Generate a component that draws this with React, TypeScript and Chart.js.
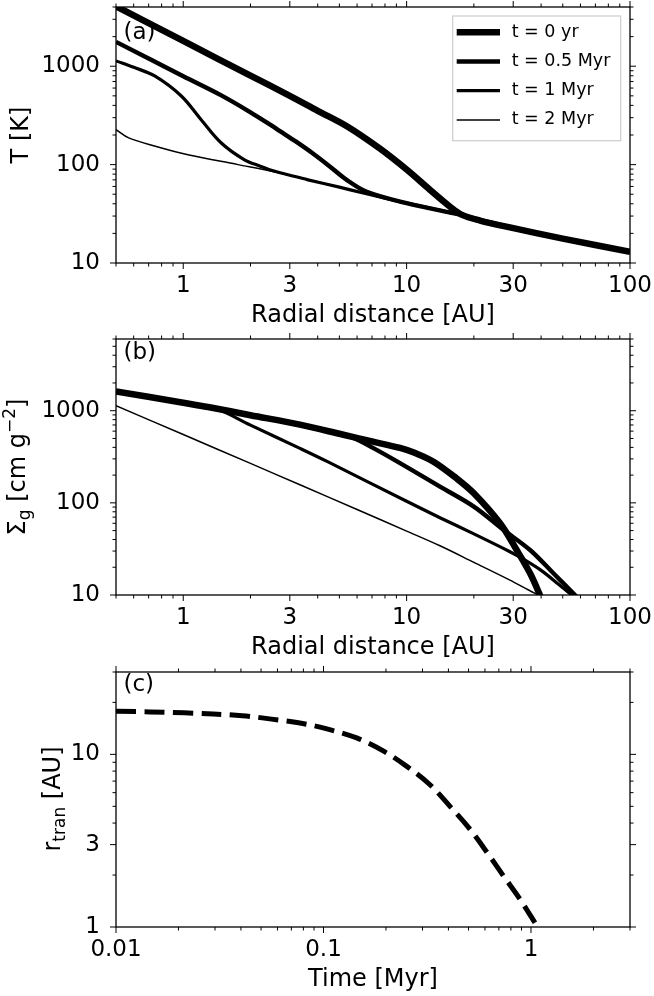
import React, { useEffect, useRef } from 'react';
import { Chart, registerables } from 'chart.js';

Chart.register(...registerables);

const FONT = '"DejaVu Sans", "Liberation Sans", sans-serif';

// ---------- data ----------

const seriesLabels = ['t = 0 yr', 't = 0.5 Myr', 't = 1 Myr', 't = 2 Myr'];

// (a) temperature T [K] vs radius [AU]
const tempR0 = [0.5, 1, 2, 3, 4, 5.4, 7.6, 10, 12.7, 15.6, 17.6, 21.3, 29, 50, 100];
const tempT0 = [4070, 1810, 802, 500, 352, 245, 145, 89, 55.6, 37.5, 31, 27, 23, 17.7, 13];
const tempR05 = [0.5, 1, 1.48, 2, 2.48, 2.71, 3.2, 3.82, 4.5, 5.39, 6.63, 10, 17.3, 21.3, 29, 50, 100];
const tempT05 = [1770, 791, 505, 340, 250, 219, 171, 129, 97, 70, 53, 40.6, 31, 27.5, 23, 17.7, 13];
const tempR1 = [0.5, 0.6, 0.745, 0.98, 1.2, 1.48, 1.88, 2.2, 2.57, 3, 3.62, 5, 6.4, 10, 17.3, 21.3, 29, 50, 100];
const tempT1 = [1133, 975, 796, 498, 288, 166, 112, 97, 85.5, 78, 70, 59, 51.4, 40.6, 31, 27.5, 23, 17.7, 13];
const tempR2 = [0.5, 0.57, 0.75, 1.05, 1.76, 2.71, 3.62, 5, 6.4, 10, 17.3, 21.3, 29, 50, 100];
const tempT2 = [227, 187, 154, 126, 100, 82, 70, 59, 51.4, 40.6, 31, 27.5, 23, 17.7, 13];

// (b) gas surface density vs radius [AU]
const sigR0 = [0.5, 1, 1.29, 2, 3.33, 5.21, 7, 9.34, 11, 13.2, 16.7, 20, 26.2, 31.1, 35.7, 39.5, 42];
const sigS0 = [1622, 1220, 1097, 894, 705, 548, 464, 394, 345, 280, 185, 127, 60, 30.8, 17.2, 10, 6.9];
const sigR05 = [0.5, 1, 1.29, 2, 3.33, 5.21, 5.58, 7, 9.34, 14.1, 20, 27.1, 35.7, 45.4, 56.7, 60];
const sigS05 = [1622, 1220, 1097, 894, 705, 548, 527, 400, 270, 150, 91, 51, 30.8, 17.2, 10, 8.7];
const sigR1 = [0.5, 1, 1.38, 2, 3.33, 4.45, 10, 14.1, 20, 29, 32.2, 40, 48, 54.8, 60];
const sigS1 = [1622, 1220, 1069, 698, 390, 278, 104, 69, 46, 29.5, 25.7, 18.5, 13, 10, 8.3];
const sigR2 = [0.5, 1, 2, 3.33, 6, 10, 14.1, 20, 29, 35, 38.9, 42];
const sigS2 = [1133, 551, 268, 157, 84.8, 49.4, 34.2, 22.6, 14.5, 11.4, 10, 9.1];

// (c) transition radius [AU] vs time [Myr]
const timeMyr = [0.01, 0.0213, 0.0406, 0.0562, 0.077, 0.105, 0.1445, 0.196, 0.252, 0.326, 0.407, 0.502, 0.612, 0.736, 0.885, 1.076];
const rTran = [17.8, 17.4, 16.75, 16.0, 15.2, 14.0, 12.45, 10.4, 8.52, 6.67, 5.0, 3.75, 2.72, 1.98, 1.45, 1.0];

// ticks
const radiusMajor = [1, 3, 10, 30, 100];
const radiusLabels = ['1', '3', '10', '30', '100'];
const radiusMinor = [0.5, 0.6, 0.7, 0.8, 0.9, 2, 4, 5, 6, 7, 8, 9, 20, 40, 50, 60, 70, 80, 90];
const tempMajor = [10, 100, 1000];
const tempLabels = ['10', '100', '1000'];
const tempMinor = [20, 30, 40, 50, 60, 70, 80, 90, 200, 300, 400, 500, 600, 700, 800, 900, 2000, 3000, 4000];
const sigMinor = [20, 30, 40, 50, 60, 70, 80, 90, 200, 300, 400, 500, 600, 700, 800, 900, 2000, 3000, 4000, 5000, 6000];
const timeMajor = [0.01, 0.1, 1];
const timeLabels = ['0.01', '0.1', '1'];
const timeMinor = [0.02, 0.03, 0.04, 0.05, 0.06, 0.07, 0.08, 0.09, 0.2, 0.3, 0.4, 0.5, 0.6, 0.7, 0.8, 0.9, 2, 3];
const rtMajor = [1, 3, 10];
const rtLabels = ['1', '3', '10'];
const rtMinor = [2, 4, 5, 6, 7, 8, 9, 20, 30];

const LINE_WIDTHS = [6.5, 4.4, 3.2, 1.5];

// ---------- drawing helpers ----------

type Seg = { text: string; size: number; dy?: number };
type Series = { x: number[]; y: number[]; width: number; label?: string; dash?: number[] };
type PanelSpec = {
  top: number;
  height: number;
  chartTop: number;
  chartBottom: number;
  series: Series[];
  xRange: [number, number];
  yRange: [number, number];
  xMajor: number[];
  xLabels: string[];
  xMinor: number[];
  yMajor: number[];
  yLabels: string[];
  yMinor: number[];
  letter: string;
  letterY: number;
  xTitle: string;
  xTitleY: number;
  yTitle: Seg[];
  yTitleX: number;
  yTitleY: number;
  legend: boolean;
};

function line(ctx: CanvasRenderingContext2D, x1: number, y1: number, x2: number, y2: number) {
  ctx.beginPath();
  ctx.moveTo(x1, y1);
  ctx.lineTo(x2, y2);
  ctx.stroke();
}

function drawSegments(ctx: CanvasRenderingContext2D, segs: Seg[]) {
  let total = 0;
  const widths = segs.map((s) => {
    ctx.font = `${s.size}px ${FONT}`;
    const w = ctx.measureText(s.text).width;
    total += w;
    return w;
  });
  let cx = -total / 2;
  segs.forEach((s, i) => {
    ctx.font = `${s.size}px ${FONT}`;
    ctx.fillText(s.text, cx, s.dy || 0);
    cx += widths[i];
  });
}

function makeFrame(spec: PanelSpec) {
  return {
    id: 'frame',
    afterDraw(chart: any) {
      const { ctx, chartArea: a, scales } = chart;
      const xs = scales.x;
      const ys = scales.y;
      ctx.save();
      ctx.strokeStyle = '#000';
      ctx.fillStyle = '#000';
      ctx.lineWidth = 1;

      const xTicks = (vals: number[], len: number) =>
        vals.forEach((v) => {
          const p = xs.getPixelForValue(v);
          if (p < a.left - 0.5 || p > a.right + 0.5) return;
          line(ctx, p, a.bottom, p, a.bottom + len);
          line(ctx, p, a.top, p, a.top - len);
        });
      const yTicks = (vals: number[], len: number) =>
        vals.forEach((v) => {
          const p = ys.getPixelForValue(v);
          if (p < a.top - 0.5 || p > a.bottom + 0.5) return;
          line(ctx, a.left, p, a.left - len, p);
          line(ctx, a.right, p, a.right + len, p);
        });
      xTicks(spec.xMajor, 6);
      xTicks(spec.xMinor, 3.5);
      yTicks(spec.yMajor, 6);
      yTicks(spec.yMinor, 3.5);

      ctx.lineWidth = 1.3;
      ctx.strokeRect(a.left, a.top, a.right - a.left, a.bottom - a.top);

      // panel letter
      ctx.font = `23px ${FONT}`;
      ctx.textAlign = 'left';
      ctx.textBaseline = 'alphabetic';
      ctx.fillText(spec.letter, 123.5, spec.letterY);

      // x title
      ctx.font = `24px ${FONT}`;
      ctx.textAlign = 'center';
      ctx.fillText(spec.xTitle, (a.left + a.right) / 2, spec.xTitleY);

      // y title (rotated, with sub/superscripts)
      ctx.save();
      ctx.translate(spec.yTitleX, spec.yTitleY);
      ctx.rotate(-Math.PI / 2);
      ctx.textAlign = 'left';
      drawSegments(ctx, spec.yTitle);
      ctx.restore();

      if (spec.legend) {
        const bx = 452.7;
        const by = 16;
        ctx.fillStyle = '#fff';
        ctx.fillRect(bx, by, 168, 124.7);
        ctx.strokeStyle = '#cccccc';
        ctx.lineWidth = 1.2;
        ctx.strokeRect(bx, by, 168, 124.7);
        ctx.strokeStyle = '#000';
        ctx.fillStyle = '#000';
        ctx.font = `17.5px ${FONT}`;
        ctx.textAlign = 'left';
        ctx.textBaseline = 'middle';
        chart.data.datasets.forEach((ds: any, i: number) => {
          const ry = 32.3 + i * 29.2;
          ctx.lineWidth = ds.borderWidth;
          ctx.lineCap = 'butt';
          line(ctx, 456.7, ry, 500, ry);
          ctx.fillText(ds.label, 511.7, ry);
        });
      }
      ctx.restore();
    },
  };
}

function logAxis(
  range: [number, number],
  major: number[],
  labels: string[],
  horizontal: boolean,
  spec: PanelSpec
) {
  return {
    type: 'logarithmic',
    min: range[0],
    max: range[1],
    bounds: 'data',
    grid: { display: false, drawTicks: false },
    border: { display: false },
    ticks: {
      autoSkip: false,
      maxRotation: 0,
      minRotation: 0,
      padding: horizontal ? 9 : 16,
      color: '#000',
      font: { family: FONT, size: 23 },
      callback: (v: number) => {
        const i = major.findIndex((m) => Math.abs(m - v) / m < 1e-6);
        return i >= 0 ? labels[i] : '';
      },
    },
    afterBuildTicks: (s: any) => {
      s.ticks = major.map((v) => ({ value: v }));
    },
    afterFit: (s: any) => {
      if (horizontal) {
        s.height = spec.height - spec.chartBottom;
        s.paddingLeft = 0;
        s.paddingRight = 0;
      } else {
        s.width = 116;
        s.paddingTop = 0;
        s.paddingBottom = 0;
      }
    },
  };
}

const Panel: React.FC<{ spec: PanelSpec }> = ({ spec }) => {
  const ref = useRef<HTMLCanvasElement>(null);

  useEffect(() => {
    if (!ref.current) return;
    const chart = new Chart(ref.current, {
      type: 'line',
      data: {
        datasets: spec.series.map((s) => ({
          label: s.label || '',
          data: s.x.map((x, i) => ({ x, y: s.y[i] })),
          borderColor: '#000',
          backgroundColor: '#000',
          borderWidth: s.width,
          borderDash: s.dash || [],
          borderJoinStyle: 'round',
          borderCapStyle: 'butt',
          pointRadius: 0,
          fill: false,
          tension: 0.35,
          clip: 0,
        })),
      },
      options: {
        animation: false,
        responsive: false,
        events: [],
        layout: { padding: { top: spec.chartTop, right: 24, left: 0, bottom: 0 } },
        plugins: { legend: { display: false }, tooltip: { enabled: false } },
        scales: {
          x: logAxis(spec.xRange, spec.xMajor, spec.xLabels, true, spec),
          y: logAxis(spec.yRange, spec.yMajor, spec.yLabels, false, spec),
        },
      } as any,
      plugins: [makeFrame(spec)],
    } as any);
    return () => chart.destroy();
  }, [spec]);

  return (
    <canvas
      ref={ref}
      width={654}
      height={spec.height}
      style={{ position: 'absolute', left: 0, top: spec.top, width: 654, height: spec.height }}
    />
  );
};

const panelA: PanelSpec = {
  top: 0,
  height: 330,
  chartTop: 7,
  chartBottom: 263,
  series: [
    { x: tempR0, y: tempT0, width: LINE_WIDTHS[0], label: seriesLabels[0] },
    { x: tempR05, y: tempT05, width: LINE_WIDTHS[1], label: seriesLabels[1] },
    { x: tempR1, y: tempT1, width: LINE_WIDTHS[2], label: seriesLabels[2] },
    { x: tempR2, y: tempT2, width: LINE_WIDTHS[3], label: seriesLabels[3] },
  ],
  xRange: [0.5, 100],
  yRange: [10, 4000],
  xMajor: radiusMajor,
  xLabels: radiusLabels,
  xMinor: radiusMinor,
  yMajor: tempMajor,
  yLabels: tempLabels,
  yMinor: tempMinor,
  letter: '(a)',
  letterY: 39,
  xTitle: 'Radial distance [AU]',
  xTitleY: 322,
  yTitle: [{ text: 'T [K]', size: 24 }],
  yTitleX: 28,
  yTitleY: 135,
  legend: true,
};

const panelB: PanelSpec = {
  top: 330,
  height: 335,
  chartTop: 9,
  chartBottom: 265,
  series: [
    { x: sigR0, y: sigS0, width: LINE_WIDTHS[0], label: seriesLabels[0] },
    { x: sigR05, y: sigS05, width: LINE_WIDTHS[1], label: seriesLabels[1] },
    { x: sigR1, y: sigS1, width: LINE_WIDTHS[2], label: seriesLabels[2] },
    { x: sigR2, y: sigS2, width: LINE_WIDTHS[3], label: seriesLabels[3] },
  ],
  xRange: [0.5, 100],
  yRange: [10, 6000],
  xMajor: radiusMajor,
  xLabels: radiusLabels,
  xMinor: radiusMinor,
  yMajor: tempMajor,
  yLabels: tempLabels,
  yMinor: sigMinor,
  letter: '(b)',
  letterY: 29,
  xTitle: 'Radial distance [AU]',
  xTitleY: 324,
  yTitle: [
    { text: 'Σ', size: 24 },
    { text: 'g', size: 17, dy: 5 },
    { text: ' [cm g', size: 24 },
    { text: '−2', size: 17, dy: -10 },
    { text: ']', size: 24 },
  ],
  yTitleX: 25,
  yTitleY: 137,
  legend: false,
};

const panelC: PanelSpec = {
  top: 665,
  height: 331,
  chartTop: 7,
  chartBottom: 262,
  series: [{ x: timeMyr, y: rTran, width: 5, dash: [20, 8.5], label: 'r_tran' }],
  xRange: [0.01, 3],
  yRange: [1, 30],
  xMajor: timeMajor,
  xLabels: timeLabels,
  xMinor: timeMinor,
  yMajor: rtMajor,
  yLabels: rtLabels,
  yMinor: rtMinor,
  letter: '(c)',
  letterY: 26,
  xTitle: 'Time [Myr]',
  xTitleY: 321,
  yTitle: [
    { text: 'r', size: 24 },
    { text: 'tran', size: 17, dy: 5 },
    { text: ' [AU]', size: 24 },
  ],
  yTitleX: 60,
  yTitleY: 134,
  legend: false,
};

export default function App() {
  return (
    <div style={{ position: 'absolute', left: 0, top: 0, width: 654, height: 996, background: '#fff' }}>
      <Panel spec={panelA} />
      <Panel spec={panelB} />
      <Panel spec={panelC} />
    </div>
  );
}
